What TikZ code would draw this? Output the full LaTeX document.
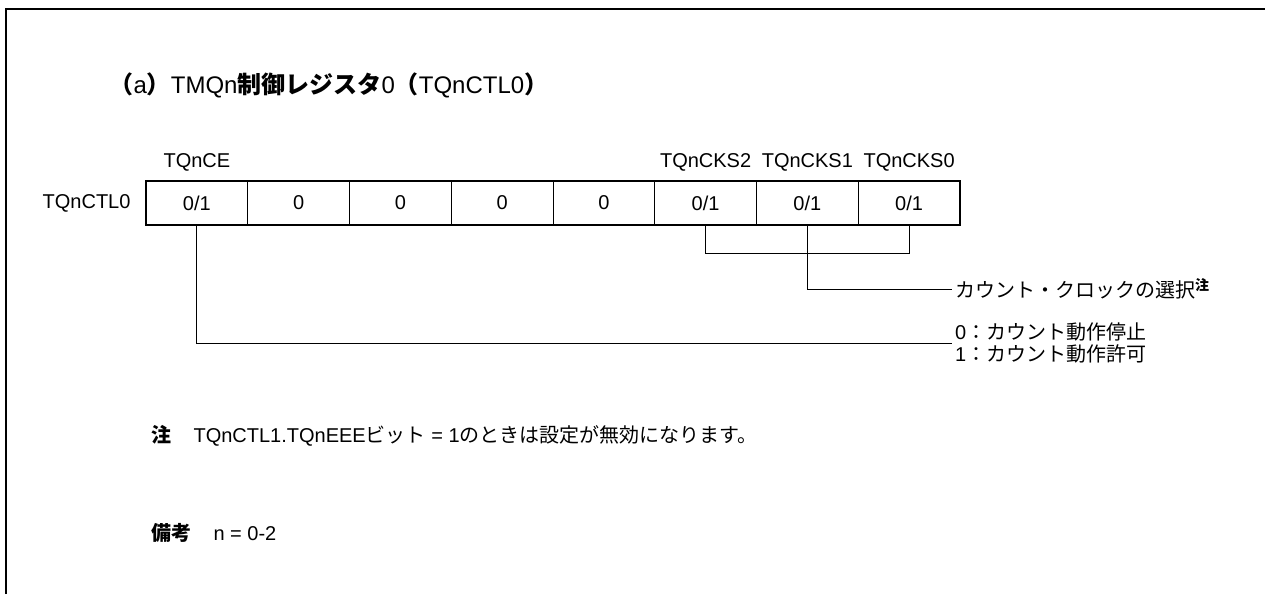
\documentclass[tikz,border=0pt]{standalone}
\usepackage{fontspec}
\setmainfont{Liberation Sans}
\newfontfamily\jpfont{Noto Sans CJK JP}
\newcommand{\jp}[1]{{\jpfont #1}}
\usepackage{tikz}
\usetikzlibrary{positioning}
\tikzstyle{bit} = [rectangle,
minimum width=101.75pt,
minimum height=44pt,
inner sep=0pt, outer sep=0pt,
draw=black, line width=0.7pt]
\tikzstyle{bitname} = [inner sep=2pt]
\tikzstyle{note} = [anchor=west, align=left, inner sep=3pt]
\tikzstyle{wire} = [line width=1pt]

\begin{document}
\begin{tikzpicture}[x=1pt, y=-1pt, font=\fontsize{20}{24}\selectfont]
            \useasboundingbox (0,0) rectangle (1265,594);
            \draw [line width=2.2pt] (6,594) -- (6,9) -- (1265,9);

            \node (title) [anchor=west, font=\fontsize{24}{28}\selectfont] at (106,85)
              {\jp{\bfseries （}a\jp{\bfseries ）}TMQn\jp{\bfseries 制御レジスタ}0\jp{\bfseries （}TQnCTL0\jp{\bfseries ）}};

            \node (c1) [bit, anchor=north west] at (146,181) {0/1};
            \node (c2) [bit, right=0pt of c1] {0};
            \node (c3) [bit, right=0pt of c2] {0};
            \node (c4) [bit, right=0pt of c3] {0};
            \node (c5) [bit, right=0pt of c4] {0};
            \node (c6) [bit, right=0pt of c5] {0/1};
            \node (c7) [bit, right=0pt of c6] {0/1};
            \node (c8) [bit, right=0pt of c7] {0/1};
            \draw [line width=2pt] (c1.north west) rectangle (c8.south east);

            \node (reg) [left=12pt of c1] {TQnCTL0};
            \node (ce) [bitname, above=8pt of c1] {TQnCE};
            \node (cks2) [bitname, above=8pt of c6] {TQnCKS2};
            \node (cks1) [bitname, above=8pt of c7] {TQnCKS1};
            \node (cks0) [bitname, above=8pt of c8] {TQnCKS0};

            \node (clk) [note] at (952,289)
              {\jp{カウント・クロックの選択}\textsuperscript{\jp{\bfseries 注}}};
            \node (run) [note, font=\fontsize{20}{22}\selectfont] at (952,343)
              {0\jp{：カウント動作停止}\\1\jp{：カウント動作許可}};

            \coordinate (brk) at (c6.south |- 0,253);
            \draw [wire] (c6.south) -- (brk) -- (c8.south |- brk) -- (c8.south);
            \draw [wire] (c7.south) |- (clk.west);
            \draw [wire] (c1.south) |- (run.west);

            \node (chu) [anchor=west] at (148,436)
              {\jp{\bfseries 注}\hspace{1.1em}TQnCTL1.TQnEEE\jp{ビット} = 1\jp{のときは設定が無効になります。}};
            \node (biko) [anchor=west] at (148,533)
              {\jp{\bfseries 備考}\hspace{1.1em}n = 0-2};
        \end{tikzpicture}
\end{document}
